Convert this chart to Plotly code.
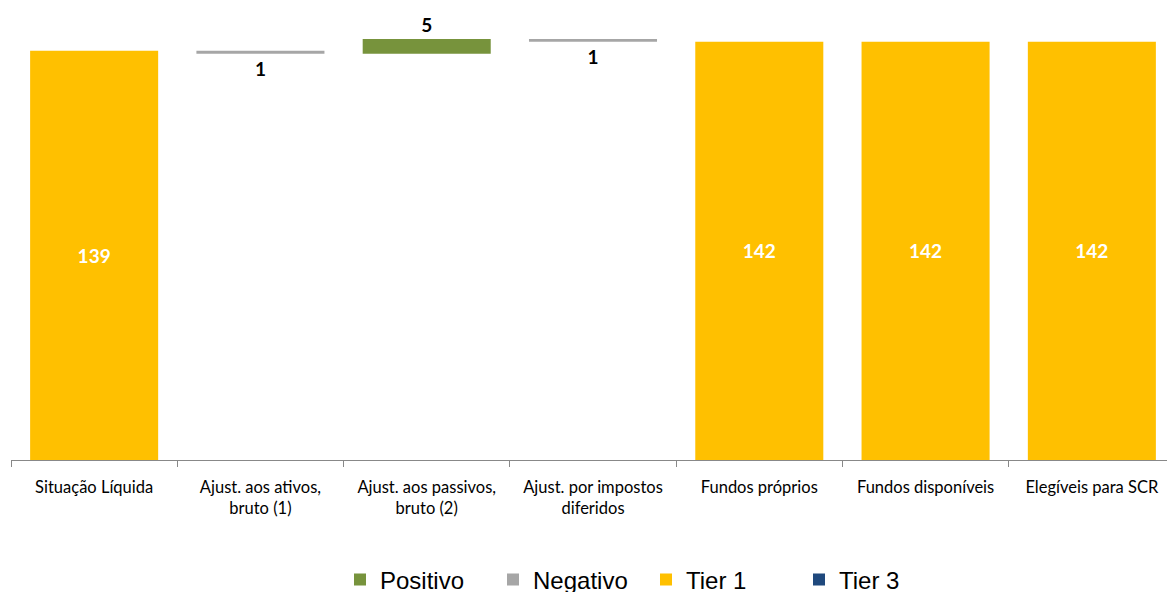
import plotly.graph_objects as go

categories = ["Situação Líquida", "Ajust. aos ativos,<br>bruto (1)", "Ajust. aos passivos,<br>bruto (2)",
              "Ajust. por impostos<br>diferidos", "Fundos próprios", "Fundos disponíveis", "Elegíveis para SCR"]
tier1 = [139, None, None, None, 142, 142, 142]
adjustments = [None, -1, 5, -1, None, None, None]
tier3 = [None, None, None, None, None, None, None]

# running totals for the waterfall adjustments
pos_y, pos_base, pos_text = [], [], []
neg_y, neg_base, neg_text = [], [], []
running = tier1[0]
for adj in adjustments:
    if adj is None:
        pos_y.append(None); pos_base.append(None); pos_text.append("")
        neg_y.append(None); neg_base.append(None); neg_text.append("")
        continue
    if adj >= 0:
        pos_y.append(adj); pos_base.append(running); pos_text.append(str(abs(adj)))
        neg_y.append(None); neg_base.append(None); neg_text.append("")
    else:
        neg_y.append(adj); neg_base.append(running); neg_text.append(str(abs(adj)))
        pos_y.append(None); pos_base.append(None); pos_text.append("")
    running += adj

W = 0.77
lab_font = dict(family="Lato, Calibri, sans-serif", size=19, color="black")

fig = go.Figure()
fig.add_trace(go.Bar(name="Positivo", x=categories, y=pos_y, base=pos_base, width=W,
                     marker=dict(color="#77933C", line_width=0),
                     text=pos_text, textposition="outside", textfont=lab_font,
                     constraintext="none", cliponaxis=False))
fig.add_trace(go.Bar(name="Negativo", x=categories, y=neg_y, base=neg_base, width=W,
                     marker=dict(color="#A6A6A6", line_width=0),
                     text=neg_text, textposition="outside", textfont=lab_font,
                     constraintext="none", cliponaxis=False))
fig.add_trace(go.Bar(name="Tier 1", x=categories, y=tier1, width=W,
                     marker=dict(color="#FFC000", line_width=0),
                     text=[("" if v is None else str(v)) for v in tier1],
                     textposition="inside", insidetextanchor="middle",
                     textfont=dict(family="Lato, Calibri, sans-serif", size=19, color="white"),
                     constraintext="none"))
fig.add_trace(go.Bar(name="Tier 3", x=categories, y=tier3, width=W,
                     marker=dict(color="#1F497D", line_width=0)))

fig.update_traces(textfont_weight="bold", selector=dict(type="bar"))

# page body adds an 8px offset; figure sized so it ends at the window edge
FW, FH = 1167, 584
PLOT_H = 452
ML = 3
fig.update_layout(
    width=FW, height=FH,
    margin=dict(l=ML, r=0, t=0, b=FH - PLOT_H, autoexpand=False),
    paper_bgcolor="white", plot_bgcolor="white",
    barmode="overlay",
    showlegend=True,
    legend=dict(orientation="h", x=(332 - ML) / (FW - ML), xanchor="left",
                y=-(572 - PLOT_H) / PLOT_H, yanchor="middle",
                font=dict(family="Liberation Sans, Arial, sans-serif", size=24, color="black"),
                entrywidth=108, itemwidth=30, traceorder="normal",
                bgcolor="rgba(0,0,0,0)"),
    xaxis=dict(type="category", tickson="boundaries", ticks="outside", ticklen=6,
               tickcolor="#888888", showline=True, linecolor="#888888", linewidth=1,
               showgrid=False, automargin=False, ticklabelstandoff=12,
               tickfont=dict(family="Lato, Calibri, sans-serif", size=16.5, color="black"),
               fixedrange=True),
    yaxis=dict(range=[0, 153.5], visible=False, showgrid=False, automargin=False, fixedrange=True),
)

fig.write_html("out.html")
